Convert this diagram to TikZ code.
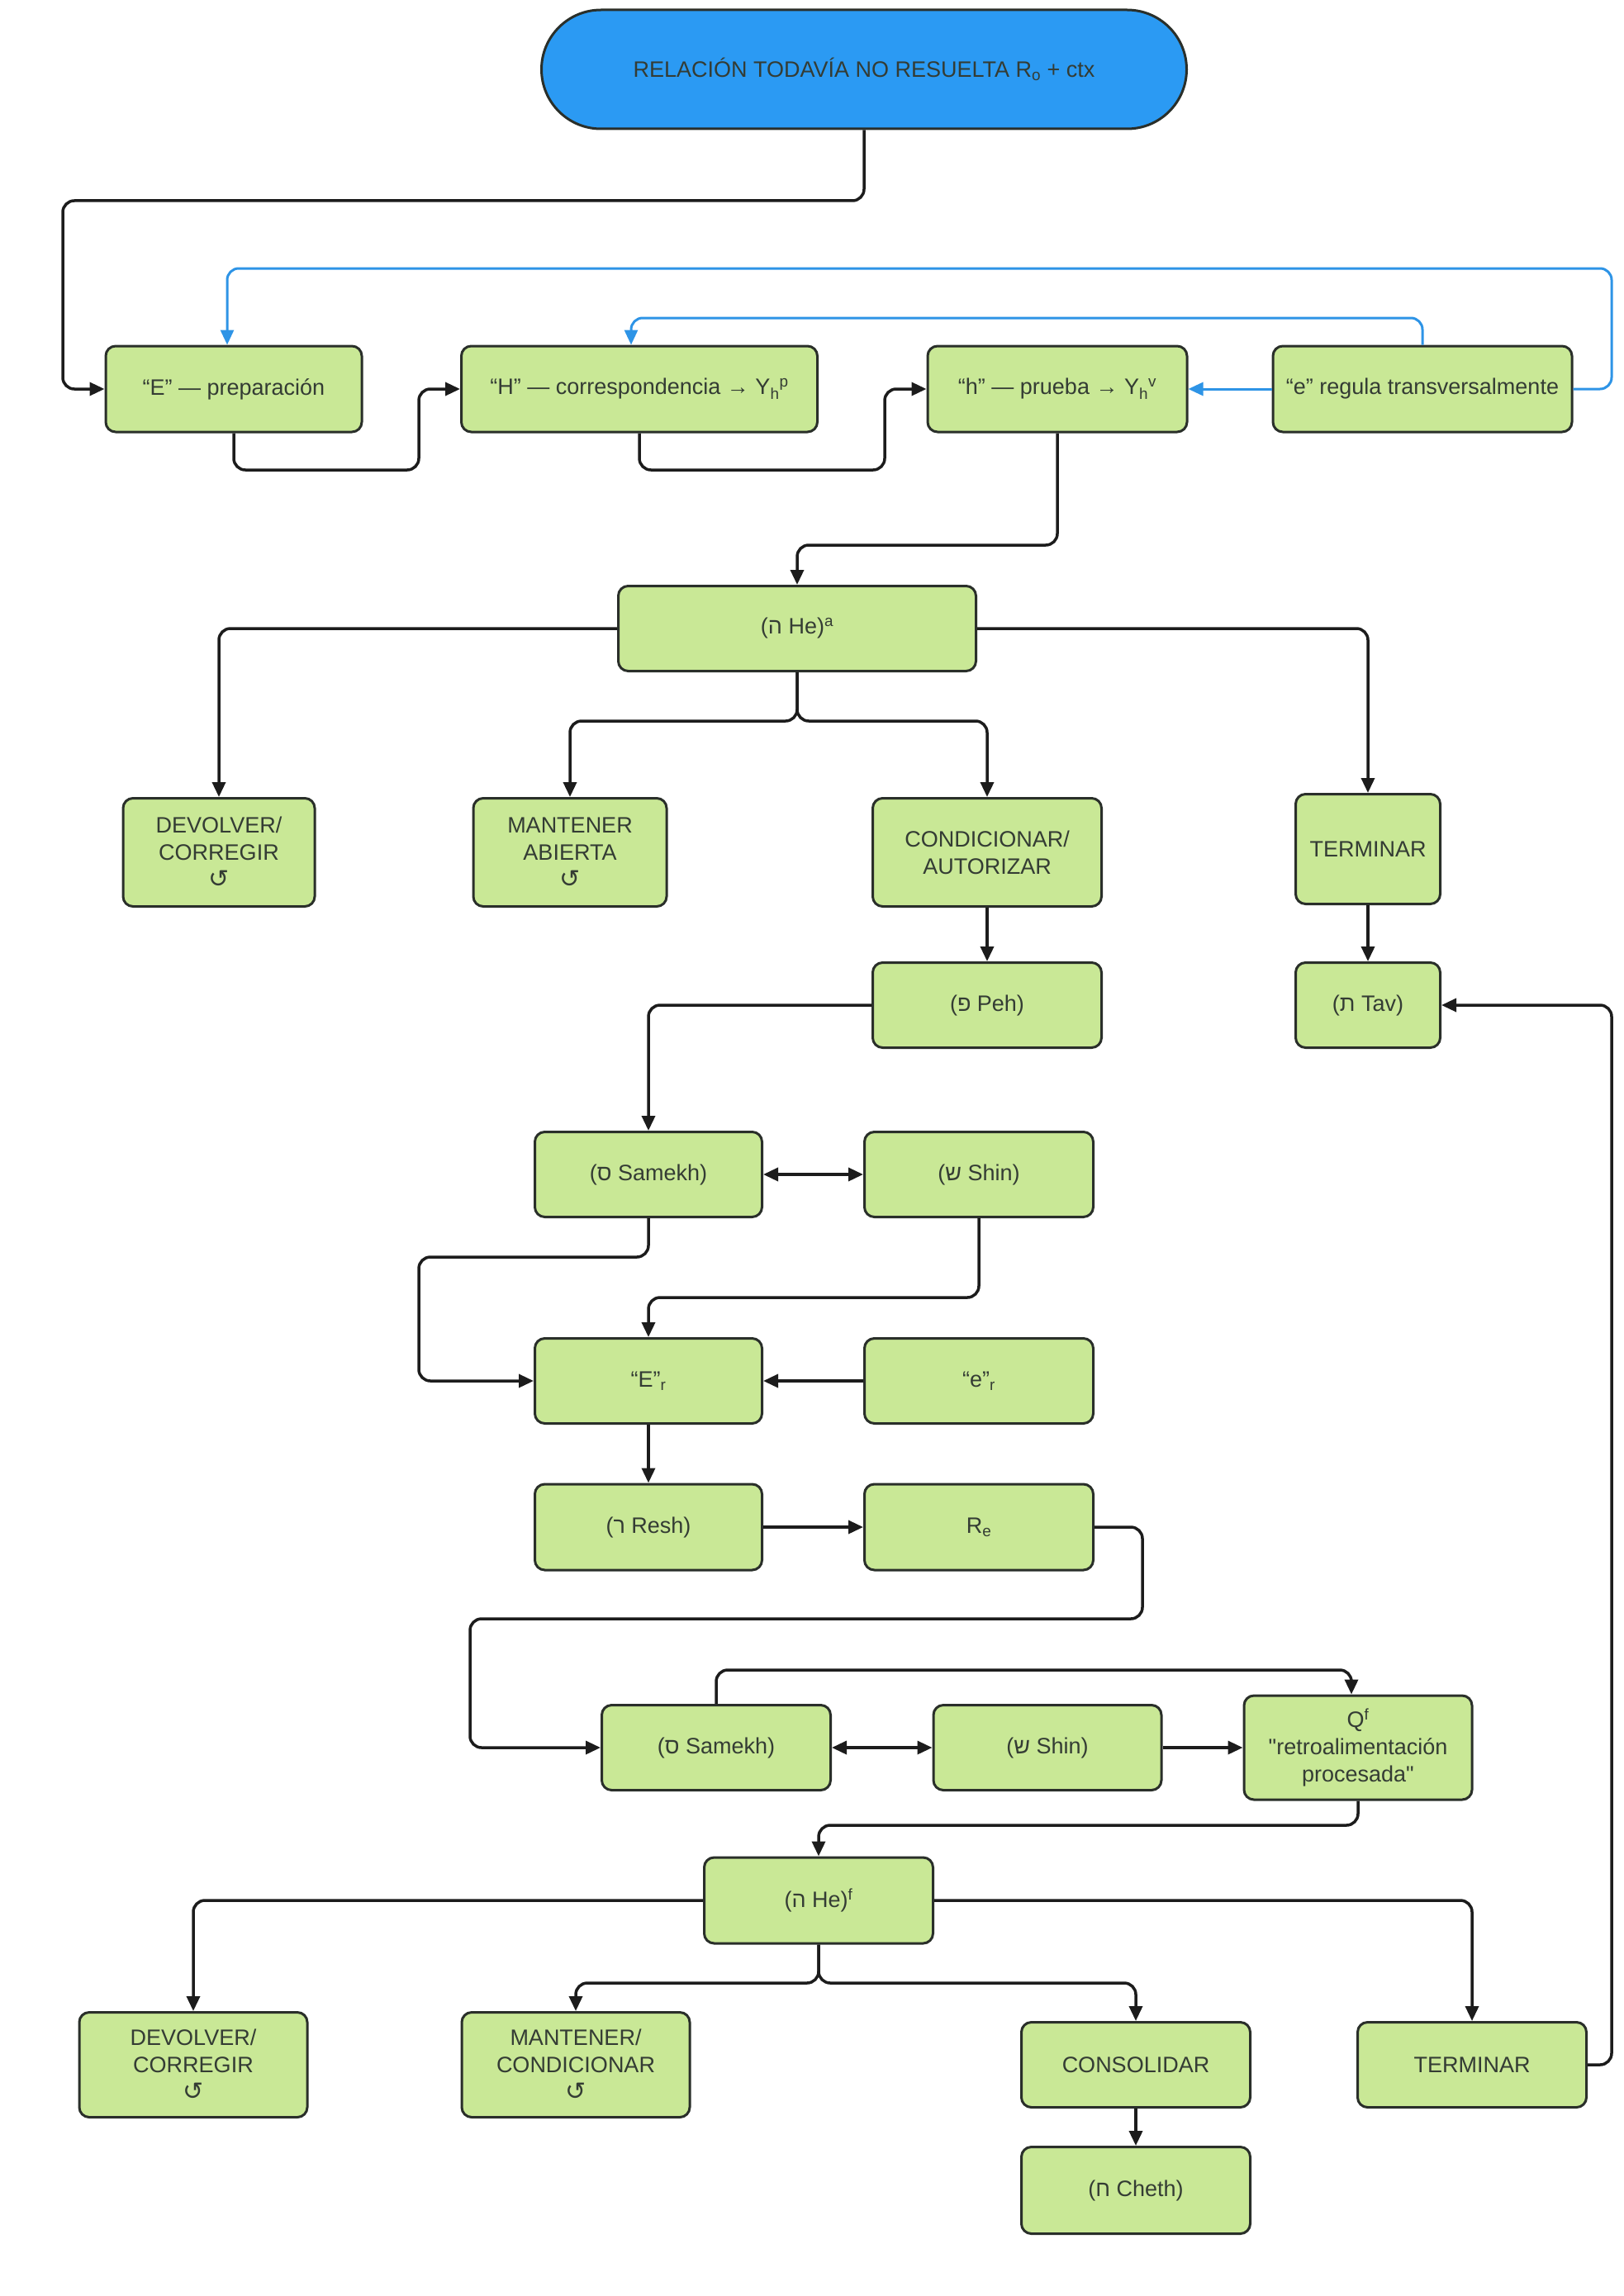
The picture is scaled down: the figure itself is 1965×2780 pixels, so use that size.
\documentclass[tikz,border=0pt]{standalone}
\usepackage{fontspec}
\newfontfamily\lib{Liberation Sans}
\newfontfamily\symfam{DejaVu Sans}
\usetikzlibrary{arrows.meta}
\definecolor{boxfill}{HTML}{C9E896}
\definecolor{boxline}{HTML}{2A2F2A}
\definecolor{txt}{HTML}{343C34}
\definecolor{topblue}{HTML}{2B9AF3}
\definecolor{linkblue}{HTML}{2E94E6}
\definecolor{arrowk}{HTML}{1C1C1C}
\newcommand{\loopsym}{{\symfam\fontsize{30}{30}\selectfont ↺}}
\newcommand{\hb}[1]{\hbox{#1}}
\tikzset{
  box/.style={draw=boxline, fill=boxfill, line width=3pt, rounded corners=12pt,
    text=txt, font=\lib\fontsize{27}{33}\selectfont, align=center, inner sep=0pt},
  arr/.style={draw=arrowk, line width=3.5pt, rounded corners=14pt,
    -{Triangle[length=18pt,width=16pt]}},
  darr/.style={draw=arrowk, line width=3.5pt,
    {Triangle[length=18pt,width=16pt]}-{Triangle[length=18pt,width=16pt]}},
  barr/.style={draw=linkblue, line width=3pt, rounded corners=14pt,
    -{Triangle[length=18pt,width=16pt]}}
}
\begin{document}
\begin{tikzpicture}[x=1pt,y=-1pt]
\useasboundingbox (0,0) rectangle (1965,2780);
% nodes
\node[box, fill=topblue, rounded corners=72pt, minimum width=781pt, minimum height=144pt] (top) at (1046,84) {RELACIÓN TODAVÍA NO RESUELTA R\textsubscript{o} + ctx};
\node[box, minimum width=310pt, minimum height=104pt] (E) at (283,471) {“E” — preparación};
\node[box, minimum width=431pt, minimum height=104pt] (H) at (774,471) {“H” — correspondencia → Y\textsubscript{h}\textsuperscript{p}};
\node[box, minimum width=314pt, minimum height=104pt] (h) at (1280,471) {“h” — prueba → Y\textsubscript{h}\textsuperscript{v}};
\node[box, minimum width=362pt, minimum height=104pt] (e) at (1722,471) {“e” regula transversalmente};
\node[box, minimum width=433pt, minimum height=103pt] (Hea) at (965,761) {\hb{(}\hb{ה}\hb{ He)}\textsuperscript{a}};
\node[box, minimum width=232pt, minimum height=131pt] (dev1) at (265,1032) {DEVOLVER/\\CORREGIR\\\loopsym};
\node[box, minimum width=234pt, minimum height=131pt] (man1) at (690,1032) {MANTENER\\ABIERTA\\\loopsym};
\node[box, minimum width=277pt, minimum height=131pt] (cond1) at (1195,1032) {CONDICIONAR/\\AUTORIZAR};
\node[box, minimum width=175pt, minimum height=133pt] (term1) at (1656,1028) {TERMINAR};
\node[box, minimum width=277pt, minimum height=103pt] (peh) at (1195,1217) {\hb{(}\hb{פ}\hb{ Peh)}};
\node[box, minimum width=175pt, minimum height=103pt] (tav) at (1656,1217) {\hb{(}\hb{ת}\hb{ Tav)}};
\node[box, minimum width=275pt, minimum height=103pt] (sam1) at (785,1422) {\hb{(}\hb{ס}\hb{ Samekh)}};
\node[box, minimum width=277pt, minimum height=103pt] (shin1) at (1185,1422) {\hb{(}\hb{ש}\hb{ Shin)}};
\node[box, minimum width=275pt, minimum height=103pt] (Er) at (785,1672) {“E”\textsubscript{r}};
\node[box, minimum width=277pt, minimum height=103pt] (er) at (1185,1672) {“e”\textsubscript{r}};
\node[box, minimum width=275pt, minimum height=104pt] (resh) at (785,1849) {\hb{(}\hb{ר}\hb{ Resh)}};
\node[box, minimum width=277pt, minimum height=104pt] (Re) at (1185,1849) {R\textsubscript{e}};
\node[box, minimum width=277pt, minimum height=103pt] (sam2) at (867,2116) {\hb{(}\hb{ס}\hb{ Samekh)}};
\node[box, minimum width=276pt, minimum height=103pt] (shin2) at (1268,2116) {\hb{(}\hb{ש}\hb{ Shin)}};
\node[box, minimum width=276pt, minimum height=126pt] (Qf) at (1644,2116) {Q\textsuperscript{f}\\"retroalimentación\\procesada"};
\node[box, minimum width=277pt, minimum height=104pt] (Hef) at (991,2301) {\hb{(}\hb{ה}\hb{ He)}\textsuperscript{f}};
\node[box, minimum width=276pt, minimum height=127pt] (dev2) at (234,2500) {DEVOLVER/\\CORREGIR\\\loopsym};
\node[box, minimum width=276pt, minimum height=127pt] (man2) at (697,2500) {MANTENER/\\CONDICIONAR\\\loopsym};
\node[box, minimum width=277pt, minimum height=103pt] (cons) at (1375,2500) {CONSOLIDAR};
\node[box, minimum width=277pt, minimum height=103pt] (term2) at (1782,2500) {TERMINAR};
\node[box, minimum width=277pt, minimum height=105pt] (cheth) at (1375,2652) {\hb{(}\hb{ח}\hb{ Cheth)}};
% connectors
\draw[arr] (top.south) -- (1046,243) -- (76,243) -- (76,471) -- (E.west);
\draw[arr] (E.south) -- (283,569) -- (507,569) -- (507,471) -- (H.west);
\draw[arr] (H.south) -- (774,569) -- (1071,569) -- (1071,471) -- (h.west);
\draw[barr] (e.west) -- (h.east);
\draw[barr] (e.north) -- (1722,385) -- (764,385) -- ([xshift=-10pt]H.north);
\draw[barr] (e.east) -- (1951,471) -- (1951,325) -- (275,325) -- ([xshift=-8pt]E.north);
\draw[arr] (h.south) -- (1280,660) -- (965,660) -- (Hea.north);
\draw[arr] (Hea.west) -| (dev1.north);
\draw[arr] (Hea.east) -| (term1.north);
\draw[arr] (Hea.south) -- (965,873) -| (man1.north);
\draw[arr] (Hea.south) -- (965,873) -| (cond1.north);
\draw[arr] (cond1.south) -- (peh.north);
\draw[arr] (term1.south) -- (tav.north);
\draw[arr] (peh.west) -| (sam1.north);
\draw[darr] (sam1.east) -- (shin1.west);
\draw[arr] (sam1.south) -- (785,1522) -- (507,1522) -- (507,1672) -- (Er.west);
\draw[arr] (shin1.south) -- (1185,1571) -- (785,1571) -- (Er.north);
\draw[arr] (er.west) -- (Er.east);
\draw[arr] (Er.south) -- (resh.north);
\draw[arr] (resh.east) -- (Re.west);
\draw[arr] (Re.east) -- (1383,1849) -- (1383,1960) -- (569,1960) -- (569,2116) -- (sam2.west);
\draw[darr] (sam2.east) -- (shin2.west);
\draw[arr] (shin2.east) -- (Qf.west);
\draw[arr] (sam2.north) -- (867,2022) -- (1636,2022) -- ([xshift=-8pt]Qf.north);
\draw[arr] (Qf.south) -- (1644,2210) -- (991,2210) -- (Hef.north);
\draw[arr] (Hef.west) -| (dev2.north);
\draw[arr] (Hef.east) -| (term2.north);
\draw[arr] (Hef.south) -- (991,2401) -| (man2.north);
\draw[arr] (Hef.south) -- (991,2401) -| (cons.north);
\draw[arr] (cons.south) -- (cheth.north);
\draw[arr] (term2.east) -- (1951,2500) -- (1951,1217) -- (tav.east);
\end{tikzpicture}
\end{document}
